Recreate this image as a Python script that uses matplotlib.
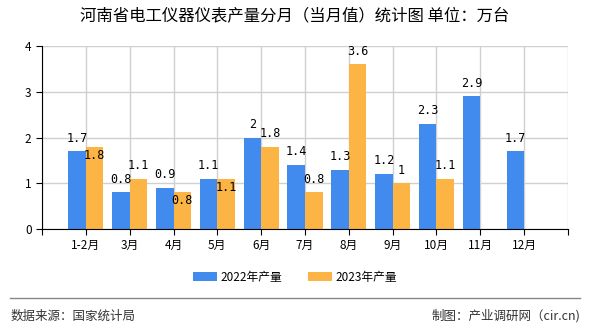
import numpy as np
import matplotlib
matplotlib.use("Agg")
import matplotlib.pyplot as plt
from matplotlib.lines import Line2D

plt.rcParams['font.family'] = ['Noto Sans CJK SC', 'DejaVu Sans']

# data
months = ["1-2月", "3月", "4月", "5月", "6月", "7月", "8月", "9月", "10月", "11月", "12月"]
prod_2022 = [1.7, 0.8, 0.9, 1.1, 2.0, 1.4, 1.3, 1.2, 2.3, 2.9, 1.7]
prod_2023 = [1.8, 1.1, 0.8, 1.1, 1.8, 0.8, 3.6, 1.0, 1.1, None, None]
# label offsets (points) for the 2023 labels; negative = drawn inside the bar
offs_2023 = [-6, 9.5, -6, -6, 9.5, 9.5, 9.5, 9.5, 9.5, 0, 0]

blue = '#418AEE'
orange = '#FCB444'

fig = plt.figure(figsize=(5.9, 3.3), dpi=100)
ax = fig.add_axes([0.0712, 0.306, 0.8915, 0.5545])

x = np.arange(1, len(months) + 1)
w = 0.4

ax.bar(x - w / 2, prod_2022, width=w, color=blue, zorder=3, label='2022年产量')
v23 = [np.nan if v is None else v for v in prod_2023]
ax.bar(x + w / 2, v23, width=w, color=orange, zorder=3, label='2023年产量')

def fmt(v):
    return f"{v:g}"

for xi, v in zip(x, prod_2022):
    ax.annotate(fmt(v), (xi - w / 2, v), xytext=(0, 9.5), textcoords='offset points',
                ha='center', va='center', fontsize=8.5, family='DejaVu Sans Mono', zorder=5)
for xi, v, o in zip(x, prod_2023, offs_2023):
    if v is None:
        continue
    ax.annotate(fmt(v), (xi + w / 2, v), xytext=(0, o), textcoords='offset points',
                ha='center', va='center', fontsize=8.5, family='DejaVu Sans Mono', zorder=5)

ax.set_xlim(0, 12)
ax.set_ylim(0, 4)
ax.set_yticks([0, 1, 2, 3, 4])
ax.set_xticks(np.arange(0, 13))
ax.set_xticklabels([''] + months + [''])
ax.tick_params(axis='both', labelsize=8.5, length=4, color='black', direction='out')
ax.grid(True, color='#d0d0d0', linewidth=1, zorder=0)
for s in ['top', 'right']:
    ax.spines[s].set_visible(False)
ax.spines['left'].set_color('black')
ax.spines['bottom'].set_color('black')
ax.spines['left'].set_zorder(4)
ax.spines['bottom'].set_zorder(4)

fig.text(0.5, 0.953, '河南省电工仪器仪表产量分月（当月值）统计图 单位：万台',
         ha='center', va='center', fontsize=11.8)

leg = fig.legend(loc='center', bbox_to_anchor=(0.5, 0.16), ncol=2, frameon=False,
                 fontsize=8.5, handlelength=2.0, handleheight=0.7, columnspacing=2.2,
                 handletextpad=0.3)

fig.add_artist(Line2D([0.017, 0.983], [0.097, 0.097], color='#888888', linewidth=1))
fig.text(0.017, 0.042, '数据来源：国家统计局', ha='left', va='center', fontsize=9, color='#333333')
fig.text(0.983, 0.042, '制图：产业调研网（cir.cn)', ha='right', va='center', fontsize=9, color='#333333')

fig.savefig('out.png', dpi=100)
